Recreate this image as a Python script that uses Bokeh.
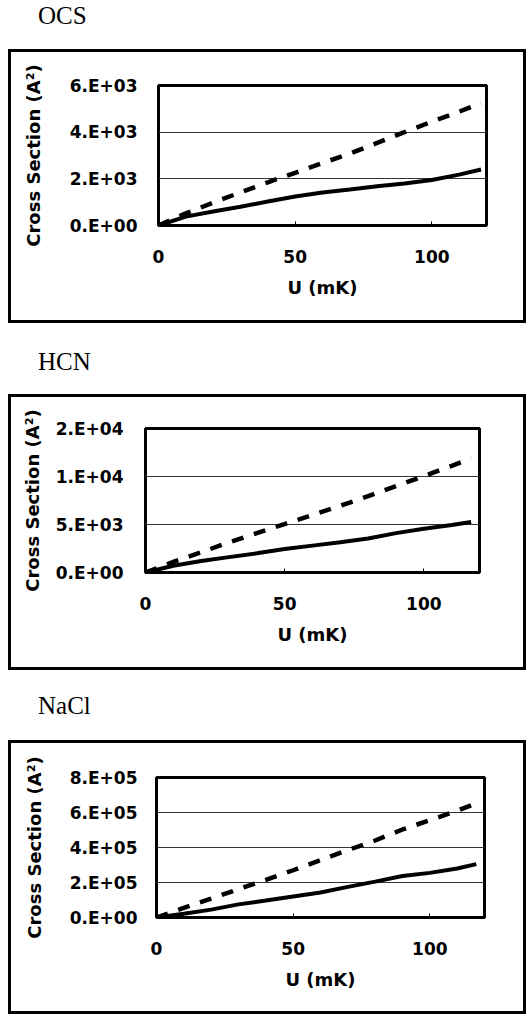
from bokeh.plotting import figure
from bokeh.layouts import column
from bokeh.models import Div, FixedTicker
from bokeh.embed import file_html
from bokeh.resources import INLINE

# ---------------- data ----------------
x_ticks = [0, 50, 100]

ocs_u = [0, 10, 20, 30, 40, 50, 60, 70, 80, 90, 100, 110, 118]
ocs_solid = [0, 380, 600, 800, 1030, 1240, 1410, 1540, 1680, 1800, 1950, 2180, 2400]
ocs_dashed = [0, 520, 980, 1420, 1850, 2260, 2680, 3080, 3540, 4000, 4450, 4880, 5250]
ocs_yticks = [0, 2000, 4000, 6000]
ocs_ylabels = ["0.E+00", "2.E+03", "4.E+03", "6.E+03"]

hcn_u = [0, 10, 20, 30, 40, 50, 60, 70, 80, 90, 100, 110, 117]
hcn_solid = [0, 700, 1200, 1600, 2000, 2450, 2800, 3150, 3550, 4100, 4550, 4950, 5270]
hcn_dashed = [0, 1100, 2100, 3150, 4100, 5050, 6000, 6950, 7950, 9000, 10050, 11100, 11880]
hcn_yticks = [0, 5000, 10000, 15000]
hcn_ylabels = ["0.E+00", "5.E+03", "1.E+04", "2.E+04"]

nacl_u = [0, 10, 20, 30, 40, 50, 60, 70, 80, 90, 100, 110, 117]
nacl_solid = [0, 22000, 45000, 75000, 97000, 120000, 143000, 175000, 205000, 237000, 255000, 280000, 305000]
nacl_dashed = [0, 55000, 108000, 162000, 215000, 270000, 328000, 385000, 440000, 503000, 556000, 610000, 652000]
nacl_yticks = [0, 200000, 400000, 600000, 800000]
nacl_ylabels = ["0.E+00", "2.E+05", "4.E+05", "6.E+05", "8.E+05"]

titles = ["OCS", "HCN", "NaCl"]
x_label = "U (mK)"
y_label = "Cross Section (A\u00b2)"

FONT = "DejaVu Sans"


def title_div(text, height, pad_top):
    style = ("font-family:'Liberation Serif',serif;font-size:25px;line-height:25px;"
             "color:black;padding-left:30px;padding-top:%dpx;" % pad_top)
    return Div(text='<div style="%s">%s</div>' % (style, text), width=518, height=height, margin=0)


def panel(u, solid, dashed, yticks, ylabels, h, T, B, L, R, ylab_standoff, ytick_standoff):
    p = figure(width=512, height=h, x_range=(0, 120), y_range=(0, yticks[-1]),
               output_backend="svg", toolbar_location=None,
               min_border_top=T, min_border_bottom=B, min_border_left=L, min_border_right=R,
               margin=0)
    p.background_fill_color = "white"
    p.border_fill_color = "white"
    p.outline_line_color = "black"
    p.outline_line_width = 3
    p.xgrid.visible = False
    p.ygrid.ticker = FixedTicker(ticks=yticks)
    p.ygrid.grid_line_color = "#333333"
    p.ygrid.grid_line_width = 1

    p.xaxis.ticker = FixedTicker(ticks=x_ticks)
    p.yaxis.ticker = FixedTicker(ticks=yticks)
    p.yaxis.major_label_overrides = {t: l for t, l in zip(yticks, ylabels)}
    for ax in (p.xaxis[0], p.yaxis[0]):
        ax.axis_line_color = None
        ax.minor_tick_line_color = None
        ax.major_tick_out = 0
        ax.major_label_text_font = FONT
        ax.major_label_text_font_size = "17px"
        ax.major_label_text_font_style = "bold"
        ax.major_label_text_color = "black"
        ax.axis_label_text_font = FONT
        ax.axis_label_text_font_size = "18px"
        ax.axis_label_text_font_style = "bold"
        ax.axis_label_text_color = "black"
    p.yaxis.major_tick_in = 0
    p.xaxis.major_tick_in = 4
    p.xaxis.major_tick_line_width = 1
    p.xaxis.major_label_standoff = 24
    p.xaxis.axis_label = x_label
    p.xaxis.axis_label_standoff = 11
    p.yaxis.axis_label = y_label
    p.yaxis.axis_label_standoff = ylab_standoff
    p.yaxis.major_label_standoff = ytick_standoff

    p.line(u, solid, line_color="black", line_width=4)
    p.line(u, dashed, line_color="black", line_width=4.5, line_dash="12 11")

    return column(p, margin=0, spacing=0,
                  styles={"border": "3px solid black", "box-sizing": "content-box"})


p1 = panel(ocs_u, ocs_solid, ocs_dashed, ocs_yticks, ocs_ylabels, 268, 33, 95, 147, 37, 23, 21)
p2 = panel(hcn_u, hcn_solid, hcn_dashed, hcn_yticks, hcn_ylabels, 270, 31, 95, 134, 44, 10, 22)
p3 = panel(nacl_u, nacl_solid, nacl_dashed, nacl_yticks, nacl_ylabels, 268, 34, 94, 145, 39, 22, 19)

layout = column(
    title_div(titles[0], 49, 3), p1,
    title_div(titles[1], 71, 26), p2,
    title_div(titles[2], 70, 23), p3,
    spacing=0, margin=(0, 0, 0, 8),
)

open("out.html", "w").write(file_html(layout, INLINE))
